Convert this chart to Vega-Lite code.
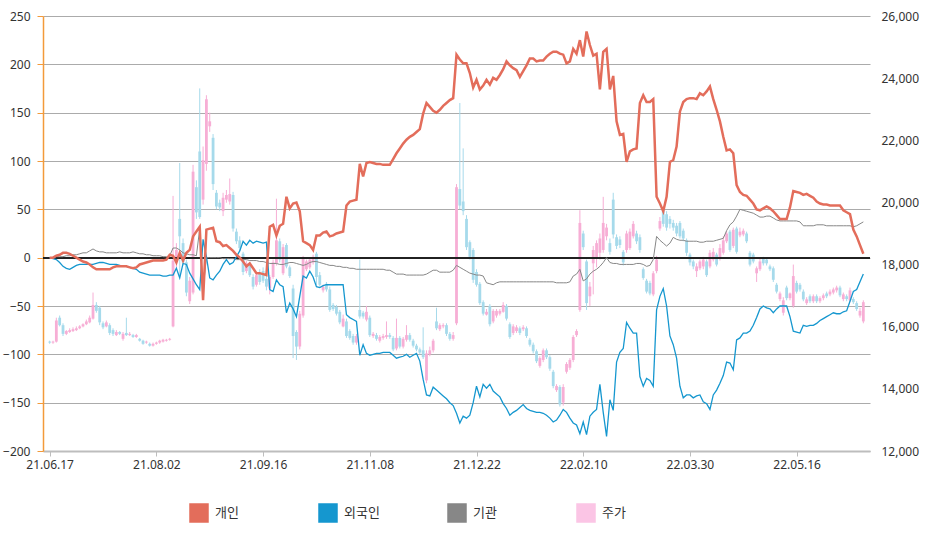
{
"$schema":"https://vega.github.io/schema/vega-lite/v6.json",
"width":827,"height":435,
"autosize":{"type":"none"},
"padding":{"left":43,"top":16,"right":66,"bottom":99},
"background":"white",
"config":{"view":{"stroke":null},"font":"Noto Sans","axis":{"labelFont":"Noto Sans","labelFontSize":12,"labelColor":"#333333","title":null}},
"data":{"values":[
{"t":0,"open":15520,"high":15550,"low":15450,"close":15490,"indiv":0,"foreign":0,"inst":0},
{"t":1,"open":15490,"high":15550,"low":15450,"close":15520,"indiv":0,"foreign":-1,"inst":0},
{"t":2,"open":15520,"high":16290,"low":15490,"close":16200,"indiv":2,"foreign":-2,"inst":1},
{"t":3,"open":16290,"high":16360,"low":16010,"close":16050,"indiv":3,"foreign":-5,"inst":1},
{"t":4,"open":16050,"high":16110,"low":15700,"close":15770,"indiv":5,"foreign":-9,"inst":1},
{"t":5,"open":15770,"high":15890,"low":15730,"close":15860,"indiv":5,"foreign":-11,"inst":2},
{"t":6,"open":15830,"high":15950,"low":15800,"close":15890,"indiv":4,"foreign":-12,"inst":2},
{"t":7,"open":15860,"high":15980,"low":15830,"close":15920,"indiv":2,"foreign":-10,"inst":3},
{"t":8,"open":15890,"high":16010,"low":15860,"close":15950,"indiv":0,"foreign":-8,"inst":3},
{"t":9,"open":15950,"high":16050,"low":15920,"close":16010,"indiv":-2,"foreign":-7,"inst":4},
{"t":10,"open":16010,"high":16110,"low":15980,"close":16080,"indiv":-4,"foreign":-7,"inst":5},
{"t":11,"open":16080,"high":16230,"low":16050,"close":16170,"indiv":-5,"foreign":-7,"inst":5},
{"t":12,"open":16140,"high":16360,"low":16110,"close":16290,"indiv":-7,"foreign":-7,"inst":7},
{"t":13,"open":16260,"high":17100,"low":16230,"close":16700,"indiv":-10,"foreign":-7,"inst":9},
{"t":14,"open":16700,"high":16790,"low":16450,"close":16510,"indiv":-12,"foreign":-6,"inst":7},
{"t":15,"open":16610,"high":16670,"low":16050,"close":16140,"indiv":-12,"foreign":-5,"inst":6},
{"t":16,"open":16110,"high":16170,"low":15920,"close":15980,"indiv":-12,"foreign":-5,"inst":6},
{"t":17,"open":16010,"high":16200,"low":15980,"close":16140,"indiv":-12,"foreign":-6,"inst":5},
{"t":18,"open":16050,"high":16110,"low":15730,"close":15800,"indiv":-12,"foreign":-7,"inst":5},
{"t":19,"open":15890,"high":15950,"low":15700,"close":15770,"indiv":-10,"foreign":-7,"inst":5},
{"t":20,"open":15730,"high":15890,"low":15700,"close":15830,"indiv":-9,"foreign":-7,"inst":5},
{"t":21,"open":15830,"high":15860,"low":15730,"close":15770,"indiv":-9,"foreign":-8,"inst":6},
{"t":22,"open":15610,"high":15830,"low":15550,"close":15770,"indiv":-9,"foreign":-9,"inst":5},
{"t":23,"open":15800,"high":16290,"low":15700,"close":15730,"indiv":-9,"foreign":-9,"inst":5},
{"t":24,"open":15730,"high":15830,"low":15700,"close":15770,"indiv":-10,"foreign":-10,"inst":5},
{"t":25,"open":15730,"high":15770,"low":15640,"close":15670,"indiv":-11,"foreign":-11,"inst":6},
{"t":26,"open":15670,"high":15770,"low":15640,"close":15730,"indiv":-10,"foreign":-12,"inst":5},
{"t":27,"open":15610,"high":15640,"low":15520,"close":15550,"indiv":-7,"foreign":-15,"inst":4},
{"t":28,"open":15550,"high":15580,"low":15420,"close":15450,"indiv":-6,"foreign":-16,"inst":4},
{"t":29,"open":15490,"high":15550,"low":15450,"close":15520,"indiv":-5,"foreign":-17,"inst":3},
{"t":30,"open":15450,"high":15490,"low":15360,"close":15390,"indiv":-4,"foreign":-18,"inst":3},
{"t":31,"open":15390,"high":15490,"low":15360,"close":15450,"indiv":-3,"foreign":-18,"inst":2},
{"t":32,"open":15450,"high":15520,"low":15420,"close":15490,"indiv":-3,"foreign":-18,"inst":2},
{"t":33,"open":15490,"high":15580,"low":15450,"close":15550,"indiv":-3,"foreign":-18,"inst":2},
{"t":34,"open":15520,"high":15610,"low":15490,"close":15580,"indiv":-3,"foreign":-19,"inst":1},
{"t":35,"open":15550,"high":15610,"low":15520,"close":15580,"indiv":-2,"foreign":-19,"inst":1},
{"t":36,"open":15580,"high":15640,"low":15550,"close":15610,"indiv":3,"foreign":-18,"inst":2},
{"t":37,"open":16010,"high":20210,"low":15980,"close":18130,"indiv":2,"foreign":-18,"inst":10},
{"t":38,"open":18130,"high":18690,"low":17910,"close":18470,"indiv":-5,"foreign":-11,"inst":10},
{"t":39,"open":19470,"high":21270,"low":17660,"close":18910,"indiv":5,"foreign":-21,"inst":8},
{"t":40,"open":18690,"high":18840,"low":17970,"close":18070,"indiv":-3,"foreign":-6,"inst":5},
{"t":41,"open":18070,"high":18160,"low":16980,"close":17100,"indiv":5,"foreign":-7,"inst":4},
{"t":42,"open":16820,"high":17600,"low":16730,"close":17480,"indiv":8,"foreign":-16,"inst":3},
{"t":43,"open":17100,"high":21210,"low":17040,"close":20990,"indiv":22,"foreign":-22,"inst":3},
{"t":44,"open":20490,"high":20710,"low":19470,"close":19680,"indiv":27,"foreign":-28,"inst":2},
{"t":45,"open":21640,"high":23670,"low":19470,"close":19530,"indiv":32,"foreign":-33,"inst":30},
{"t":46,"open":20090,"high":21800,"low":19930,"close":21360,"indiv":-44,"foreign":19,"inst":-33},
{"t":47,"open":21240,"high":23450,"low":21020,"close":23320,"indiv":29,"foreign":1,"inst":0},
{"t":48,"open":22450,"high":22890,"low":22270,"close":22610,"indiv":30,"foreign":-21,"inst":0},
{"t":49,"open":22080,"high":22200,"low":20400,"close":20590,"indiv":31,"foreign":-23,"inst":0},
{"t":50,"open":20310,"high":20400,"low":19780,"close":19870,"indiv":17,"foreign":-18,"inst":0},
{"t":51,"open":19990,"high":20090,"low":19720,"close":19840,"indiv":16,"foreign":-14,"inst":0},
{"t":52,"open":19720,"high":20310,"low":19560,"close":20150,"indiv":12,"foreign":-7,"inst":-1},
{"t":53,"open":20090,"high":20400,"low":19990,"close":20240,"indiv":13,"foreign":-2,"inst":-1},
{"t":54,"open":20030,"high":20770,"low":19930,"close":20270,"indiv":10,"foreign":-7,"inst":-1},
{"t":55,"open":20240,"high":20340,"low":19060,"close":19160,"indiv":7,"foreign":-5,"inst":-1},
{"t":56,"open":19060,"high":19160,"low":18660,"close":18750,"indiv":3,"foreign":1,"inst":-2},
{"t":57,"open":18780,"high":18910,"low":18440,"close":18530,"indiv":0,"foreign":7,"inst":-2},
{"t":58,"open":18350,"high":18410,"low":17660,"close":17760,"indiv":-4,"foreign":17,"inst":-2},
{"t":59,"open":17790,"high":18130,"low":17720,"close":18040,"indiv":-9,"foreign":13,"inst":-2},
{"t":60,"open":17970,"high":18070,"low":17600,"close":17660,"indiv":-6,"foreign":18,"inst":-3},
{"t":61,"open":17600,"high":17690,"low":17200,"close":17290,"indiv":-11,"foreign":15,"inst":-3},
{"t":62,"open":17350,"high":17760,"low":17290,"close":17660,"indiv":-16,"foreign":17,"inst":-3},
{"t":63,"open":17720,"high":17850,"low":17350,"close":17440,"indiv":-16,"foreign":16,"inst":-4},
{"t":64,"open":17790,"high":17910,"low":17410,"close":17480,"indiv":-17,"foreign":15,"inst":-4},
{"t":65,"open":17540,"high":17660,"low":17170,"close":17290,"indiv":-18,"foreign":16,"inst":-5},
{"t":66,"open":17230,"high":17660,"low":17040,"close":17600,"indiv":32,"foreign":-33,"inst":-6},
{"t":67,"open":17600,"high":18160,"low":17540,"close":18070,"indiv":34,"foreign":-35,"inst":-6},
{"t":68,"open":18040,"high":20120,"low":17970,"close":18780,"indiv":23,"foreign":-23,"inst":-6},
{"t":69,"open":18750,"high":18840,"low":18070,"close":18160,"indiv":33,"foreign":-28,"inst":-7},
{"t":70,"open":17720,"high":18660,"low":17660,"close":18560,"indiv":35,"foreign":-30,"inst":-7},
{"t":71,"open":18630,"high":18690,"low":17880,"close":17940,"indiv":63,"foreign":-57,"inst":-6},
{"t":72,"open":17910,"high":17970,"low":17570,"close":17630,"indiv":51,"foreign":-47,"inst":-5},
{"t":73,"open":17230,"high":17350,"low":14990,"close":15700,"indiv":56,"foreign":-53,"inst":-5},
{"t":74,"open":15830,"high":15890,"low":14930,"close":15360,"indiv":57,"foreign":-61,"inst":-6},
{"t":75,"open":15360,"high":16510,"low":15270,"close":16420,"indiv":48,"foreign":-40,"inst":-7},
{"t":76,"open":16360,"high":18280,"low":16290,"close":18190,"indiv":17,"foreign":-19,"inst":-8},
{"t":77,"open":17850,"high":18160,"low":17790,"close":18100,"indiv":15,"foreign":-21,"inst":-7},
{"t":78,"open":17910,"high":18220,"low":17850,"close":18160,"indiv":13,"foreign":-14,"inst":-5},
{"t":79,"open":18070,"high":18320,"low":18000,"close":18250,"indiv":8,"foreign":-20,"inst":-4},
{"t":80,"open":18350,"high":18410,"low":17350,"close":17600,"indiv":23,"foreign":-30,"inst":-4},
{"t":81,"open":17660,"high":17760,"low":17290,"close":17350,"indiv":23,"foreign":-31,"inst":-5},
{"t":82,"open":17170,"high":17350,"low":17100,"close":17290,"indiv":26,"foreign":-29,"inst":-6},
{"t":83,"open":17380,"high":17440,"low":17130,"close":17200,"indiv":27,"foreign":-28,"inst":-7},
{"t":84,"open":17200,"high":17290,"low":16480,"close":16540,"indiv":22,"foreign":-28,"inst":-8},
{"t":85,"open":16700,"high":16760,"low":16510,"close":16570,"indiv":23,"foreign":-28,"inst":-8},
{"t":86,"open":16640,"high":16700,"low":16360,"close":16420,"indiv":25,"foreign":-28,"inst":-9},
{"t":87,"open":16480,"high":16540,"low":16080,"close":16140,"indiv":26,"foreign":-28,"inst":-9},
{"t":88,"open":16010,"high":16390,"low":15980,"close":16260,"indiv":27,"foreign":-28,"inst":-10},
{"t":89,"open":16170,"high":16260,"low":15640,"close":15700,"indiv":54,"foreign":-59,"inst":-10},
{"t":90,"open":15860,"high":15920,"low":15580,"close":15640,"indiv":58,"foreign":-62,"inst":-11},
{"t":91,"open":15700,"high":15770,"low":15420,"close":15490,"indiv":59,"foreign":-64,"inst":-11},
{"t":92,"open":15490,"high":15770,"low":15420,"close":15700,"indiv":60,"foreign":-66,"inst":-12},
{"t":93,"open":16540,"high":18160,"low":16260,"close":16330,"indiv":97,"foreign":-101,"inst":-12},
{"t":94,"open":16450,"high":16510,"low":16260,"close":16330,"indiv":84,"foreign":-90,"inst":-12},
{"t":95,"open":16230,"high":16670,"low":16170,"close":16480,"indiv":98,"foreign":-99,"inst":-12},
{"t":96,"open":16290,"high":16360,"low":15670,"close":15730,"indiv":99,"foreign":-101,"inst":-12},
{"t":97,"open":15700,"high":15830,"low":15640,"close":15770,"indiv":98,"foreign":-100,"inst":-12},
{"t":98,"open":15730,"high":15800,"low":15550,"close":15610,"indiv":97,"foreign":-99,"inst":-12},
{"t":99,"open":15550,"high":15730,"low":15490,"close":15670,"indiv":97,"foreign":-99,"inst":-12},
{"t":100,"open":15640,"high":15770,"low":15580,"close":15700,"indiv":96,"foreign":-98,"inst":-12},
{"t":101,"open":15670,"high":16170,"low":15610,"close":15730,"indiv":96,"foreign":-98,"inst":-13},
{"t":102,"open":15730,"high":15800,"low":15610,"close":15670,"indiv":96,"foreign":-98,"inst":-13},
{"t":103,"open":15640,"high":15700,"low":15210,"close":15270,"indiv":102,"foreign":-101,"inst":-15},
{"t":104,"open":15300,"high":16260,"low":15240,"close":15640,"indiv":108,"foreign":-104,"inst":-17},
{"t":105,"open":15640,"high":15700,"low":15300,"close":15360,"indiv":113,"foreign":-103,"inst":-17},
{"t":106,"open":15360,"high":15670,"low":15300,"close":15610,"indiv":118,"foreign":-102,"inst":-17},
{"t":107,"open":15580,"high":16050,"low":15520,"close":15730,"indiv":122,"foreign":-100,"inst":-18},
{"t":108,"open":15730,"high":15800,"low":15520,"close":15580,"indiv":125,"foreign":-103,"inst":-18},
{"t":109,"open":15550,"high":15610,"low":15330,"close":15390,"indiv":127,"foreign":-101,"inst":-18},
{"t":110,"open":15390,"high":15450,"low":15210,"close":15270,"indiv":130,"foreign":-99,"inst":-18},
{"t":111,"open":15270,"high":15330,"low":15110,"close":15170,"indiv":133,"foreign":-107,"inst":-18},
{"t":112,"open":15240,"high":15980,"low":14960,"close":15020,"indiv":149,"foreign":-126,"inst":-18},
{"t":113,"open":14270,"high":15240,"low":14180,"close":15140,"indiv":160,"foreign":-142,"inst":-17},
{"t":114,"open":15110,"high":15360,"low":15050,"close":15240,"indiv":156,"foreign":-143,"inst":-15},
{"t":115,"open":15240,"high":15610,"low":15170,"close":15550,"indiv":152,"foreign":-134,"inst":-13},
{"t":116,"open":16170,"high":16610,"low":15890,"close":15950,"indiv":150,"foreign":-137,"inst":-13},
{"t":117,"open":15920,"high":16110,"low":15860,"close":16050,"indiv":153,"foreign":-140,"inst":-15},
{"t":118,"open":16010,"high":16110,"low":15950,"close":16050,"indiv":157,"foreign":-143,"inst":-15},
{"t":119,"open":16050,"high":16110,"low":15700,"close":15770,"indiv":160,"foreign":-146,"inst":-15},
{"t":120,"open":15770,"high":15830,"low":15550,"close":15610,"indiv":163,"foreign":-150,"inst":-15},
{"t":121,"open":15610,"high":15830,"low":15550,"close":15730,"indiv":165,"foreign":-153,"inst":-13},
{"t":122,"open":16110,"high":20590,"low":16050,"close":20490,"indiv":210,"foreign":-161,"inst":-8},
{"t":123,"open":20430,"high":23200,"low":19780,"close":19900,"indiv":205,"foreign":-171,"inst":-10},
{"t":124,"open":20030,"high":21740,"low":19590,"close":19720,"indiv":201,"foreign":-164,"inst":-12},
{"t":125,"open":19470,"high":19590,"low":18470,"close":18560,"indiv":201,"foreign":-166,"inst":-14},
{"t":126,"open":18720,"high":18780,"low":18160,"close":18250,"indiv":191,"foreign":-163,"inst":-16},
{"t":127,"open":18470,"high":18530,"low":17410,"close":17510,"indiv":176,"foreign":-150,"inst":-17},
{"t":128,"open":17760,"high":17850,"low":17290,"close":17350,"indiv":184,"foreign":-133,"inst":-18},
{"t":129,"open":17380,"high":17440,"low":16700,"close":16760,"indiv":174,"foreign":-144,"inst":-18},
{"t":130,"open":16790,"high":16850,"low":16360,"close":16420,"indiv":178,"foreign":-131,"inst":-19},
{"t":131,"open":16390,"high":16570,"low":16360,"close":16480,"indiv":184,"foreign":-135,"inst":-26},
{"t":132,"open":16670,"high":16730,"low":16010,"close":16080,"indiv":179,"foreign":-131,"inst":-27},
{"t":133,"open":16170,"high":16570,"low":16110,"close":16510,"indiv":186,"foreign":-138,"inst":-28},
{"t":134,"open":16360,"high":16570,"low":16290,"close":16510,"indiv":184,"foreign":-141,"inst":-26},
{"t":135,"open":16420,"high":16570,"low":16360,"close":16510,"indiv":189,"foreign":-144,"inst":-25},
{"t":136,"open":16480,"high":16790,"low":16450,"close":16700,"indiv":195,"foreign":-151,"inst":-25},
{"t":137,"open":16670,"high":16730,"low":16200,"close":16260,"indiv":203,"foreign":-156,"inst":-25},
{"t":138,"open":16080,"high":16140,"low":15610,"close":15670,"indiv":199,"foreign":-163,"inst":-25},
{"t":139,"open":15800,"high":16080,"low":15730,"close":16010,"indiv":196,"foreign":-160,"inst":-25},
{"t":140,"open":15860,"high":16050,"low":15800,"close":15980,"indiv":194,"foreign":-158,"inst":-25},
{"t":141,"open":15950,"high":16010,"low":15730,"close":15800,"indiv":187,"foreign":-155,"inst":-25},
{"t":142,"open":15920,"high":16050,"low":15860,"close":15980,"indiv":193,"foreign":-152,"inst":-25},
{"t":143,"open":15950,"high":16010,"low":15640,"close":15700,"indiv":199,"foreign":-156,"inst":-25},
{"t":144,"open":15580,"high":15640,"low":15360,"close":15420,"indiv":206,"foreign":-158,"inst":-25},
{"t":145,"open":15420,"high":15490,"low":15140,"close":15210,"indiv":206,"foreign":-159,"inst":-25},
{"t":146,"open":15210,"high":15270,"low":14830,"close":14890,"indiv":203,"foreign":-160,"inst":-25},
{"t":147,"open":14740,"high":15050,"low":14680,"close":14990,"indiv":204,"foreign":-160,"inst":-25},
{"t":148,"open":14930,"high":15300,"low":14860,"close":15240,"indiv":204,"foreign":-161,"inst":-25},
{"t":149,"open":15240,"high":15300,"low":14960,"close":15020,"indiv":208,"foreign":-163,"inst":-25},
{"t":150,"open":15020,"high":15080,"low":14580,"close":14650,"indiv":211,"foreign":-166,"inst":-25},
{"t":151,"open":14550,"high":14610,"low":14020,"close":14090,"indiv":213,"foreign":-170,"inst":-25},
{"t":152,"open":13960,"high":14150,"low":13900,"close":14090,"indiv":213,"foreign":-168,"inst":-26},
{"t":153,"open":14060,"high":14120,"low":13430,"close":13500,"indiv":211,"foreign":-163,"inst":-26},
{"t":154,"open":13560,"high":14150,"low":13460,"close":14060,"indiv":210,"foreign":-157,"inst":-26},
{"t":155,"open":14550,"high":14860,"low":14490,"close":14800,"indiv":201,"foreign":-160,"inst":-26},
{"t":156,"open":14680,"high":14990,"low":14610,"close":14930,"indiv":203,"foreign":-166,"inst":-25},
{"t":157,"open":14930,"high":15730,"low":14860,"close":15670,"indiv":216,"foreign":-171,"inst":-19},
{"t":158,"open":15730,"high":15920,"low":15670,"close":15860,"indiv":211,"foreign":-173,"inst":-17},
{"t":159,"open":16540,"high":19750,"low":16480,"close":19340,"indiv":225,"foreign":-182,"inst":-12},
{"t":160,"open":19000,"high":19090,"low":18470,"close":18560,"indiv":208,"foreign":-170,"inst":-24},
{"t":161,"open":18100,"high":18160,"low":16540,"close":16760,"indiv":234,"foreign":-183,"inst":-22},
{"t":162,"open":16980,"high":17440,"low":16670,"close":17290,"indiv":220,"foreign":-164,"inst":-17},
{"t":163,"open":18040,"high":18600,"low":17040,"close":18470,"indiv":209,"foreign":-160,"inst":-14},
{"t":164,"open":18220,"high":18780,"low":17910,"close":18690,"indiv":211,"foreign":-157,"inst":-12},
{"t":165,"open":18380,"high":19000,"low":18160,"close":18840,"indiv":174,"foreign":-131,"inst":-9},
{"t":166,"open":18470,"high":20180,"low":18380,"close":19340,"indiv":213,"foreign":-160,"inst":-5},
{"t":167,"open":18910,"high":19310,"low":18780,"close":19190,"indiv":216,"foreign":-185,"inst":0},
{"t":168,"open":18690,"high":18840,"low":18320,"close":18410,"indiv":174,"foreign":-147,"inst":-5},
{"t":169,"open":20090,"high":20310,"low":18840,"close":18970,"indiv":188,"foreign":-158,"inst":-6},
{"t":170,"open":18880,"high":18970,"low":18500,"close":18600,"indiv":141,"foreign":-108,"inst":-6},
{"t":171,"open":18810,"high":18910,"low":18530,"close":18630,"indiv":127,"foreign":-98,"inst":-7},
{"t":172,"open":18410,"high":18470,"low":17970,"close":18070,"indiv":128,"foreign":-94,"inst":-7},
{"t":173,"open":18470,"high":19090,"low":18380,"close":19000,"indiv":99,"foreign":-67,"inst":-7},
{"t":174,"open":18530,"high":19160,"low":18470,"close":19060,"indiv":110,"foreign":-73,"inst":-7},
{"t":175,"open":18910,"high":19400,"low":18840,"close":19310,"indiv":112,"foreign":-78,"inst":-7},
{"t":176,"open":19000,"high":19090,"low":18660,"close":18750,"indiv":113,"foreign":-78,"inst":-6},
{"t":177,"open":18880,"high":18970,"low":18380,"close":18470,"indiv":160,"foreign":-123,"inst":-6},
{"t":178,"open":17850,"high":17910,"low":17510,"close":17570,"indiv":168,"foreign":-133,"inst":-7},
{"t":179,"open":17480,"high":17540,"low":17070,"close":17130,"indiv":161,"foreign":-125,"inst":-9},
{"t":180,"open":17410,"high":17480,"low":17010,"close":17070,"indiv":161,"foreign":-127,"inst":-8},
{"t":181,"open":17040,"high":17790,"low":16980,"close":17720,"indiv":164,"foreign":-133,"inst":-2},
{"t":182,"open":17790,"high":18280,"low":17720,"close":18160,"indiv":63,"foreign":-54,"inst":22},
{"t":183,"open":19160,"high":19530,"low":19090,"close":19400,"indiv":56,"foreign":-40,"inst":18},
{"t":184,"open":19750,"high":19840,"low":19220,"close":19310,"indiv":48,"foreign":-32,"inst":15},
{"t":185,"open":19620,"high":19720,"low":19090,"close":19190,"indiv":63,"foreign":-50,"inst":12},
{"t":186,"open":19470,"high":19560,"low":19160,"close":19310,"indiv":99,"foreign":-81,"inst":15},
{"t":187,"open":19340,"high":19440,"low":19090,"close":19190,"indiv":101,"foreign":-90,"inst":21},
{"t":188,"open":19250,"high":19340,"low":18910,"close":19000,"indiv":115,"foreign":-104,"inst":19},
{"t":189,"open":19340,"high":19400,"low":18840,"close":18910,"indiv":151,"foreign":-133,"inst":18},
{"t":190,"open":19090,"high":19160,"low":18750,"close":18840,"indiv":161,"foreign":-145,"inst":18},
{"t":191,"open":18780,"high":18840,"low":18280,"close":18380,"indiv":164,"foreign":-142,"inst":17},
{"t":192,"open":18320,"high":18380,"low":17970,"close":18070,"indiv":165,"foreign":-142,"inst":17},
{"t":193,"open":18100,"high":18160,"low":17850,"close":17940,"indiv":165,"foreign":-145,"inst":17},
{"t":194,"open":17790,"high":18040,"low":17600,"close":17940,"indiv":164,"foreign":-143,"inst":17},
{"t":195,"open":17880,"high":18160,"low":17820,"close":18100,"indiv":170,"foreign":-142,"inst":16},
{"t":196,"open":17940,"high":18250,"low":17850,"close":18160,"indiv":168,"foreign":-149,"inst":16},
{"t":197,"open":18100,"high":18160,"low":17600,"close":17660,"indiv":172,"foreign":-151,"inst":17},
{"t":198,"open":17940,"high":18470,"low":17880,"close":18380,"indiv":177,"foreign":-157,"inst":17},
{"t":199,"open":18160,"high":18530,"low":18100,"close":18410,"indiv":164,"foreign":-142,"inst":17},
{"t":200,"open":18320,"high":18380,"low":17940,"close":18000,"indiv":153,"foreign":-137,"inst":18},
{"t":201,"open":18190,"high":18660,"low":18130,"close":18530,"indiv":141,"foreign":-130,"inst":19},
{"t":202,"open":18380,"high":18910,"low":18320,"close":18780,"indiv":125,"foreign":-122,"inst":20},
{"t":203,"open":18750,"high":19090,"low":18690,"close":19000,"indiv":111,"foreign":-108,"inst":28},
{"t":204,"open":19060,"high":19120,"low":18410,"close":18470,"indiv":112,"foreign":-109,"inst":34},
{"t":205,"open":18600,"high":19190,"low":18530,"close":19120,"indiv":108,"foreign":-116,"inst":37},
{"t":206,"open":19160,"high":19220,"low":18350,"close":18410,"indiv":75,"foreign":-85,"inst":43},
{"t":207,"open":18940,"high":19190,"low":18880,"close":19060,"indiv":68,"foreign":-83,"inst":50},
{"t":208,"open":18970,"high":19160,"low":18910,"close":19090,"indiv":65,"foreign":-78,"inst":49},
{"t":209,"open":19000,"high":19060,"low":18690,"close":18750,"indiv":64,"foreign":-78,"inst":48},
{"t":210,"open":18380,"high":18440,"low":17940,"close":18000,"indiv":60,"foreign":-76,"inst":47},
{"t":211,"open":18320,"high":18380,"low":18040,"close":18100,"indiv":56,"foreign":-70,"inst":46},
{"t":212,"open":17720,"high":17940,"low":17440,"close":17880,"indiv":50,"foreign":-62,"inst":44},
{"t":213,"open":17850,"high":18190,"low":17790,"close":18100,"indiv":49,"foreign":-53,"inst":42},
{"t":214,"open":18190,"high":18250,"low":17970,"close":18040,"indiv":51,"foreign":-50,"inst":42},
{"t":215,"open":18160,"high":18220,"low":17970,"close":18040,"indiv":53,"foreign":-52,"inst":43},
{"t":216,"open":17940,"high":18000,"low":17790,"close":17850,"indiv":51,"foreign":-53,"inst":43},
{"t":217,"open":17880,"high":17940,"low":17440,"close":17510,"indiv":48,"foreign":-57,"inst":41},
{"t":218,"open":17350,"high":17410,"low":17070,"close":17130,"indiv":44,"foreign":-53,"inst":39},
{"t":219,"open":16890,"high":17130,"low":16820,"close":17070,"indiv":40,"foreign":-50,"inst":38},
{"t":220,"open":16450,"high":16950,"low":16360,"close":16850,"indiv":40,"foreign":-50,"inst":38},
{"t":221,"open":17260,"high":17320,"low":16850,"close":16920,"indiv":40,"foreign":-50,"inst":38},
{"t":222,"open":16920,"high":17100,"low":16850,"close":17070,"indiv":52,"foreign":-61,"inst":38},
{"t":223,"open":16670,"high":18000,"low":16610,"close":17630,"indiv":69,"foreign":-76,"inst":38},
{"t":224,"open":17410,"high":17480,"low":17070,"close":17130,"indiv":68,"foreign":-77,"inst":38},
{"t":225,"open":17350,"high":17410,"low":17130,"close":17200,"indiv":67,"foreign":-78,"inst":37},
{"t":226,"open":17130,"high":17200,"low":16820,"close":16880,"indiv":65,"foreign":-70,"inst":33},
{"t":227,"open":16760,"high":16950,"low":16700,"close":16880,"indiv":66,"foreign":-71,"inst":33},
{"t":228,"open":16980,"high":17040,"low":16760,"close":16820,"indiv":64,"foreign":-70,"inst":33},
{"t":229,"open":16820,"high":17040,"low":16760,"close":16980,"indiv":62,"foreign":-70,"inst":33},
{"t":230,"open":16980,"high":17040,"low":16760,"close":16820,"indiv":58,"foreign":-68,"inst":34},
{"t":231,"open":16820,"high":16980,"low":16760,"close":16920,"indiv":56,"foreign":-65,"inst":34},
{"t":232,"open":16920,"high":17070,"low":16850,"close":17010,"indiv":55,"foreign":-63,"inst":34},
{"t":233,"open":17070,"high":17130,"low":16920,"close":16980,"indiv":55,"foreign":-61,"inst":33},
{"t":234,"open":17040,"high":17200,"low":16980,"close":17130,"indiv":54,"foreign":-59,"inst":33},
{"t":235,"open":17100,"high":17260,"low":17040,"close":17200,"indiv":54,"foreign":-57,"inst":33},
{"t":236,"open":17170,"high":17320,"low":17100,"close":17260,"indiv":54,"foreign":-58,"inst":33},
{"t":237,"open":17260,"high":17320,"low":16950,"close":17010,"indiv":54,"foreign":-58,"inst":33},
{"t":238,"open":16890,"high":17100,"low":16820,"close":17040,"indiv":49,"foreign":-56,"inst":33},
{"t":239,"open":16980,"high":17040,"low":16820,"close":16890,"indiv":47,"foreign":-55,"inst":33},
{"t":240,"open":16850,"high":17260,"low":16790,"close":17170,"indiv":45,"foreign":-45,"inst":33},
{"t":241,"open":16890,"high":16950,"low":16730,"close":16790,"indiv":29,"foreign":-35,"inst":32},
{"t":242,"open":16760,"high":16820,"low":16510,"close":16570,"indiv":22,"foreign":-33,"inst":33},
{"t":243,"open":16360,"high":16610,"low":16290,"close":16510,"indiv":13,"foreign":-25,"inst":35},
{"t":244,"open":16170,"high":16850,"low":16110,"close":16790,"indiv":4,"foreign":-17,"inst":37}
]},
"layer":[
{
"encoding":{
"x":{"field":"t","type":"quantitative","scale":{"domain":[-0.5,244.5],"nice":false,"zero":false},
"axis":{"values":[0,32,64,96,128,160,192,224],"labelExpr":"['21.06.17','21.08.02','21.09.16','21.11.08','21.12.22','22.02.10','22.03.30','22.05.16'][round(datum.value/32)]","grid":false,"domainColor":"#bdbdbd","domainWidth":2,"tickColor":"#bdbdbd","tickSize":5,"labelPadding":3}}
},
"layer":[
{"mark":{"type":"rule","strokeWidth":1},
"encoding":{
"y":{"field":"low","type":"quantitative","scale":{"domain":[12000,26000],"nice":false,"zero":false},
"axis":{"orient":"right","values":[12000,14000,16000,18000,20000,22000,24000,26000],"format":",.0f","grid":false,"domain":false,"ticks":false,"labelPadding":11}},
"y2":{"field":"high"},
"color":{"condition":{"test":"datum.close >= datum.open","value":"#f7aed5"},"value":"#a6daeb"}}},
{"mark":{"type":"bar","width":2.8},
"encoding":{
"y":{"field":"open","type":"quantitative"},
"y2":{"field":"close"},
"color":{"condition":{"test":"datum.close >= datum.open","value":"#f7aed5"},"value":"#a6daeb"}}}
]
},
{
"layer":[
{"mark":{"type":"rule","color":"#222222","strokeWidth":1},
"encoding":{"y":{"datum":0,"type":"quantitative","scale":{"domain":[-200,250],"nice":false,"zero":false},
"axis":{"orient":"left","values":[-200,-150,-100,-50,0,50,100,150,200,250],"grid":true,"gridColor":"#ababab","gridWidth":1,"domainColor":"#f39a3a","domainWidth":1.5,"tickColor":"#f39a3a","tickSize":6,"labelPadding":7}}}},
{"mark":{"type":"line","strokeWidth":1,"interpolate":"linear"},
"encoding":{"x":{"field":"t","type":"quantitative","scale":{"domain":[-0.5,244.5],"nice":false,"zero":false}},
"y":{"field":"inst","type":"quantitative"},
"color":{"datum":"기관","type":"nominal"}}},
{"mark":{"type":"line","strokeWidth":1.3},
"encoding":{"x":{"field":"t","type":"quantitative","scale":{"domain":[-0.5,244.5],"nice":false,"zero":false}},
"y":{"field":"foreign","type":"quantitative"},
"color":{"datum":"외국인","type":"nominal"}}},
{"mark":{"type":"line","strokeWidth":2.5},
"encoding":{"x":{"field":"t","type":"quantitative","scale":{"domain":[-0.5,244.5],"nice":false,"zero":false}},
"y":{"field":"indiv","type":"quantitative"},
"color":{"datum":"개인","type":"nominal",
"scale":{"domain":["개인","외국인","기관","주가"],"range":["#e36d5b","#1597cf","#878787","#fbc5e5"]},
"legend":{"orient":"none","legendX":146,"legendY":487,"direction":"horizontal","columns":4,"title":null,"symbolType":"square","symbolSize":324,"labelFont":"Noto Sans CJK KR","labelFontSize":13,"labelColor":"#333333","labelOffset":6,"columnPadding":65,"gridAlign":"all",
"encode":{"symbols":{"update":{"fill":{"scale":"color","field":"value"},"stroke":{"signal":"datum.value === '주가' ? '#e4629f' : scale('color', datum.value)"},"strokeWidth":{"value":1.5},"opacity":{"value":1}}}}}}}}
]
}
],
"resolve":{"scale":{"y":"independent"}}
}
